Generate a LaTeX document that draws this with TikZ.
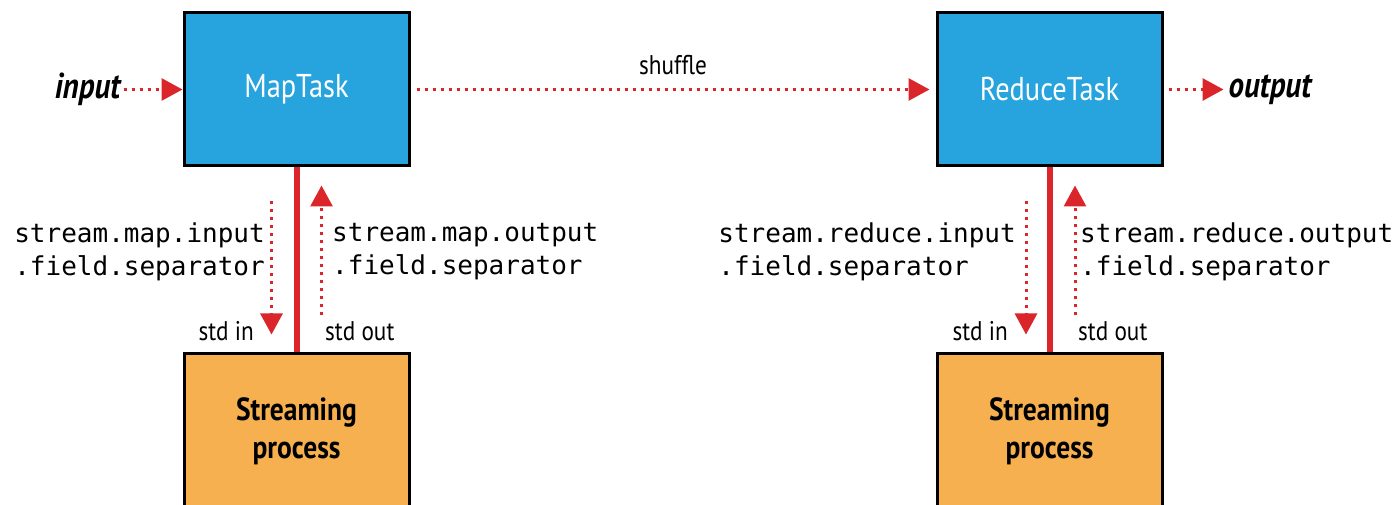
\documentclass[tikz,border=0pt]{standalone}
\usepackage{fontspec}
\setmainfont{PT Sans}[FakeStretch=0.86]
\setmonofont{DejaVu Sans Mono}
\usetikzlibrary{arrows.meta,positioning}
\definecolor{redA}{RGB}{218,37,42}
\definecolor{blueA}{RGB}{39,164,221}
\definecolor{orangeA}{RGB}{246,176,80}
\tikzset{
	taskA/.style={
		draw=black, line width=3pt, fill=blueA, text=white, inner sep=0pt,
		minimum width=225pt, minimum height=153pt,
		font={\fontsize{33}{39}\selectfont}
	},
	procA/.style={
		draw=black, line width=3pt, fill=orangeA, inner sep=0pt, align=center,
		minimum width=225pt, minimum height=157pt,
		font={\fontsize{32}{38}\selectfont\bfseries}
	},
	dotA/.style={
		redA, line width=3pt, dash pattern=on 3pt off 5pt,
		-{Triangle[length=21pt,width=22pt]}
	},
	pipeA/.style={redA, line width=6pt},
	ioA/.style={inner sep=0pt, text=black, font={\fontsize{36}{40}\selectfont\bfseries\itshape}},
	labA/.style={inner sep=0pt, text=black, font={\fontsize{27}{30}\selectfont}},
	monoA/.style={inner sep=0pt, align=left, font={\fontsize{26}{33}\selectfont\ttfamily}},
	>=stealth,
}
\def\gapD{34pt}

\begin{document}
\begin{tikzpicture}[x=1pt, y=1pt]
\useasboundingbox (0,0) rectangle (1398,504);
\node[taskA] (map) at (296.5,414.5) {MapTask};
\node[taskA] (red) at (1049.5,414.5) {ReduceTask};
\node[procA] (smap) at (296.5,72.5) {Streaming\\process};
\node[procA] (sred) at (1049.5,72.5) {Streaming\\process};
\node[ioA, left=62pt of map] (in) {input};
\node[ioA, right=65pt of red] (out) {output};
\draw[dotA, shorten <=3pt] (in) -- (map);
\draw[dotA, shorten <=5pt, shorten >=5pt] (red) -- (out);
\draw[dotA, shorten <=6pt, shorten >=6pt] (map) -- (red)
	node[labA, midway, above=13pt] (shuf) {shuffle};
\draw[pipeA] (map) -- (smap);
\draw[pipeA] (red) -- (sred);
\draw[dotA] ([xshift=-25pt,yshift=-\gapD]map.south) -- ([xshift=-25pt,yshift=17pt]smap.north);
\draw[dotA] ([xshift=25pt,yshift=36pt]smap.north) -- ([xshift=25pt,yshift=-18pt]map.south);
\draw[dotA] ([xshift=-23.5pt,yshift=-\gapD]red.south) -- ([xshift=-23.5pt,yshift=17pt]sred.north);
\draw[dotA] ([xshift=25.5pt,yshift=36pt]sred.north) -- ([xshift=25.5pt,yshift=-18pt]red.south);
\node[monoA, anchor=east] (mapin) at (265,252) {stream.map.input\\.field.separator};
\node[monoA, anchor=west] (mapout) at (332,252) {stream.map.output\\.field.separator};
\node[monoA, anchor=east] (redin) at (1016,252) {stream.reduce.input\\.field.separator};
\node[monoA, anchor=west] (redout) at (1080,252) {stream.reduce.output\\.field.separator};
\node[labA, anchor=base east] (mapsi) at (254,164) {std in};
\node[labA, anchor=base west] (mapso) at (325,164) {std out};
\node[labA, anchor=base east] (redsi) at (1008,164) {std in};
\node[labA, anchor=base west] (redso) at (1078,164) {std out};
\end{tikzpicture}
\end{document}
